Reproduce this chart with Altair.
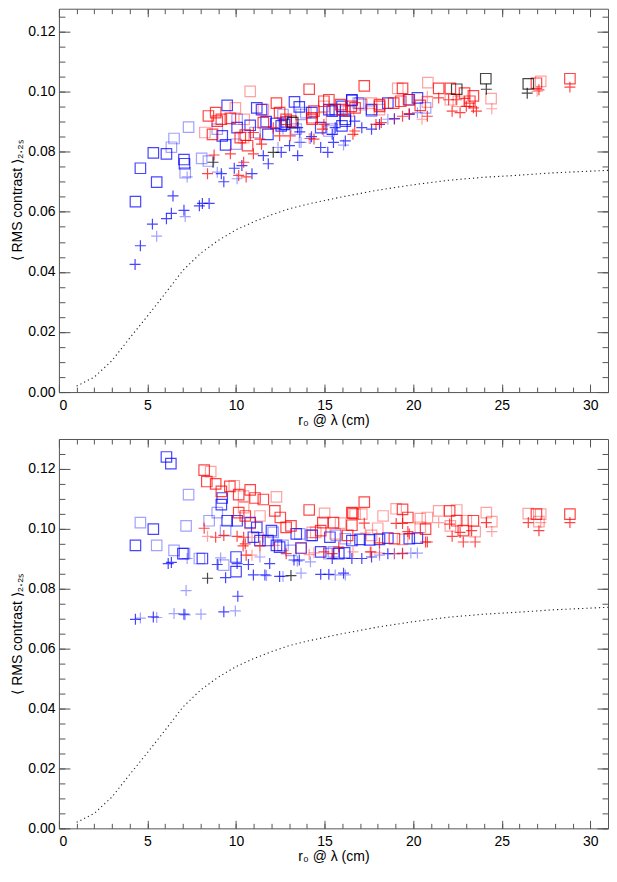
import altair as alt
import pandas as pd

# ---------------- data ----------------
CURVE_X = [1, 2, 3, 4, 5, 6, 7, 8, 9, 10, 11, 12, 13, 14, 16, 18, 20, 22, 24, 26, 28, 31]
CURVE_Y = [0.002, 0.005, 0.0105, 0.018, 0.0253, 0.0328, 0.0405, 0.0462, 0.0505, 0.054, 0.0567,
           0.059, 0.061, 0.0625, 0.065, 0.0672, 0.069, 0.0705, 0.0715, 0.0722, 0.073, 0.0738]

X_MAJOR = [0, 5, 10, 15, 20, 25, 30]
X_MINOR = list(range(1, 31))
Y_MAJOR = [0.0, 0.02, 0.04, 0.06, 0.08, 0.10, 0.12]
Y_MINOR = [round(0.005 * k, 3) for k in range(26)]

# (x, y, set)   set a = strong, b = faint
TOP_BLUE_SQ = [
    (4.32, 0.0634, 'a'), (4.6, 0.0745, 'a'), (5.33, 0.0796, 'a'), (5.52, 0.0699, 'a'), (6.07, 0.0793, 'a'),
    (6.35, 0.0815, 'b'), (6.5, 0.0844, 'b'), (7.32, 0.0882, 'b'), (7.06, 0.0774, 'a'), (7.09, 0.076, 'a'),
    (7.13, 0.073, 'b'), (8.06, 0.0778, 'b'), (8.44, 0.0769, 'b'), (8.94, 0.0875, 'b'), (9.22, 0.0853, 'a'),
    (9.5, 0.0954, 'a'), (9.41, 0.0823, 'a'), (10.06, 0.088, 'a'), (10.0, 0.0825, 'b'), (10.06, 0.0908, 'b'),
    (10.8, 0.0888, 'a'), (11.17, 0.0946, 'a'), (11.44, 0.094, 'a'), (11.07, 0.0864, 'b'), (11.7, 0.09, 'a'),
    (11.8, 0.0858, 'a'), (12.24, 0.0894, 'a'), (12.55, 0.0886, 'a'), (12.65, 0.0924, 'b'), (12.83, 0.0899, 'a'),
    (13.3, 0.0966, 'a'), (13.57, 0.0949, 'a'), (13.67, 0.0924, 'b'), (13.94, 0.093, 'b'),
    (14.28, 0.093, 'a'), (16.54, 0.0971, 'a'), (17.0, 0.0962, 'b'), (18.57, 0.0962, 'a'), (19.78, 0.0973, 'a'),
    (20.24, 0.0979, 'a'), (17.65, 0.0935, 'b'), (15.6, 0.094, 'a'), (15.43, 0.0935, 'a'), (16.17, 0.0935, 'b'),
    (16.17, 0.0902, 'a'), (14.78, 0.088, 'a'), (15.24, 0.0869, 'b'), (13.4, 0.0875, 'b'), (20.7, 0.0946, 'b'),
    (15.98, 0.0886, 'a'), (12.74, 0.0891, 'a'), (15.98, 0.0951, 'a'), (16.54, 0.0973, 'a'), (15.24, 0.094, 'a'),
    (17.65, 0.094, 'a'), (16.9, 0.0962, 'b'), (16.17, 0.0908, 'a'), (15.43, 0.0875, 'b'),
]
TOP_RED_SQ = [
    (10.8, 0.1001, 'b'), (8.44, 0.0919, 'a'), (8.85, 0.093, 'a'), (8.24, 0.0864, 'b'), (8.67, 0.0858, 'a'),
    (9.17, 0.0908, 'a'), (9.68, 0.0911, 'a'), (9.96, 0.0946, 'b'), (10.46, 0.0908, 'b'), (10.52, 0.0855, 'a'),
    (10.65, 0.082, 'a'), (10.24, 0.0847, 'a'), (11.54, 0.094, 'b'), (12.28, 0.0962, 'a'), (12.46, 0.093, 'a'),
    (13.1, 0.0902, 'a'), (14.13, 0.1008, 'a'), (14.28, 0.0913, 'a'), (17.24, 0.1019, 'a'), (19.13, 0.1011, 'b'),
    (19.4, 0.1011, 'a'), (20.83, 0.103, 'b'), (21.44, 0.1011, 'a'), (22.1, 0.1011, 'a'),
    (26.96, 0.1028, 'a'), (27.2, 0.1034, 'b'), (28.85, 0.1043, 'a'), (24.4, 0.0977, 'b'),
    (22.9, 0.0995, 'a'), (23.4, 0.0986, 'a'), (23.2, 0.0968, 'a'), (22.55, 0.0968, 'b'), (22.1, 0.0973, 'b'),
    (20.8, 0.0965, 'b'), (20.4, 0.0954, 'a'), (19.74, 0.0973, 'a'), (19.3, 0.0968, 'a'), (18.9, 0.0962, 'a'),
    (17.65, 0.0962, 'b'), (18.1, 0.0957, 'a'), (18.1, 0.094, 'b'), (17.1, 0.0957, 'b'), (15.9, 0.0957, 'a'),
    (16.5, 0.0951, 'a'), (14.96, 0.0968, 'a'), (15.24, 0.0973, 'a'), (14.4, 0.0935, 'a'), (14.8, 0.0913, 'b'),
    (14.3, 0.0908, 'a'), (14.96, 0.0951, 'b'), (12.83, 0.0908, 'a'), (11.54, 0.0897, 'a'), (10.43, 0.0847, 'b'),
    (8.94, 0.0902, 'a'), (15.98, 0.094, 'a'), (16.35, 0.0935, 'b'), (16.72, 0.0946, 'a'), (18.1, 0.0951, 'a'),
]
TOP_BLACK_SQ = [(24.1, 0.1043, 'a'), (26.5, 0.1026, 'a'), (22.46, 0.1008, 'a'), (13.2, 0.0897, 'a')]
TOP_BLUE_PL = [
    (4.3, 0.0425, 'a'), (4.6, 0.0487, 'a'), (5.28, 0.0559, 'a'), (5.52, 0.0519, 'b'), (6.07, 0.0577, 'a'),
    (6.35, 0.0595, 'a'), (6.44, 0.0653, 'a'), (7.06, 0.0605, 'a'), (7.13, 0.0584, 'b'), (7.24, 0.0716, 'b'),
    (7.93, 0.062, 'a'), (8.1, 0.0628, 'a'), (8.48, 0.0628, 'a'), (8.94, 0.0732, 'b'), (9.17, 0.0727, 'a'),
    (9.31, 0.07, 'a'), (9.9, 0.0745, 'a'), (10.06, 0.071, 'b'), (10.33, 0.0754, 'a'), (10.9, 0.0727, 'a'),
    (11.54, 0.0787, 'a'), (11.82, 0.076, 'a'), (12.37, 0.0814, 'b'), (12.55, 0.0798, 'a'),
    (13.02, 0.082, 'a'), (13.48, 0.0787, 'a'), (13.48, 0.088, 'a'), (13.6, 0.0866, 'a'), (13.67, 0.0831, 'b'),
    (14.26, 0.085, 'a'), (12.65, 0.0875, 'b'), (14.78, 0.0814, 'a'), (15.18, 0.0798, 'a'), (15.5, 0.0831, 'a'),
    (16.17, 0.0836, 'a'), (16.07, 0.0822, 'b'), (17.1, 0.088, 'a'), (17.65, 0.0875, 'a'), (18.1, 0.0891, 'a'),
    (18.57, 0.0908, 'b'), (18.94, 0.091, 'a'), (19.78, 0.0924, 'a'), (20.24, 0.093, 'b'), (14.2, 0.0844, 'b'),
    (13.57, 0.0831, 'b'), (16.7, 0.0902, 'a'), (15.6, 0.088, 'a'), (15.43, 0.0858, 'a'),
]
TOP_RED_PL = [
    (8.39, 0.0727, 'a'), (8.76, 0.0789, 'a'), (9.68, 0.0793, 'a'), (10.15, 0.0721, 'a'), (10.57, 0.0716, 'a'),
    (10.43, 0.0765, 'a'), (10.98, 0.0793, 'a'), (11.35, 0.0842, 'a'), (11.44, 0.0825, 'a'), (12.46, 0.0853, 'a'),
    (13.06, 0.0853, 'a'), (10.98, 0.0864, 'a'), (12.1, 0.088, 'a'), (14.13, 0.0844, 'b'), (14.4, 0.0842, 'a'),
    (14.87, 0.0875, 'a'), (14.96, 0.0891, 'a'), (16.6, 0.0858, 'a'), (16.7, 0.0869, 'a'), (17.9, 0.0891, 'a'),
    (18.2, 0.0897, 'a'), (18.94, 0.0908, 'b'), (19.4, 0.0918, 'a'), (19.78, 0.0927, 'a'), (20.5, 0.0908, 'b'),
    (20.8, 0.0918, 'a'), (20.8, 0.0984, 'b'), (21.44, 0.0979, 'a'), (22.0, 0.0973, 'a'), (22.2, 0.0935, 'a'),
    (22.65, 0.093, 'a'), (23.0, 0.0951, 'a'), (23.4, 0.0946, 'a'), (23.57, 0.0935, 'a'), (22.46, 0.0973, 'a'),
    (24.44, 0.0943, 'b'), (27.0, 0.1001, 'b'), (27.1, 0.1006, 'a'), (28.85, 0.1015, 'a'),
    (23.2, 0.0962, 'a'),
]
TOP_BLACK_PL = [(26.44, 0.0995, 'a'), (24.13, 0.1008, 'a'), (8.7, 0.0765, 'a'), (12.1, 0.0798, 'a')]

BOT_BLUE_SQ = [
    (6.07, 0.124, 'a'), (6.32, 0.1218, 'a'), (4.6, 0.1021, 'b'), (4.32, 0.0945, 'a'), (5.33, 0.0999, 'a'),
    (5.52, 0.0945, 'b'), (6.5, 0.0928, 'b'), (7.0, 0.0917, 'a'), (7.09, 0.0917, 'b'), (7.18, 0.101, 'b'),
    (7.32, 0.1114, 'b'), (7.93, 0.0901, 'b'), (8.1, 0.0901, 'a'), (8.48, 0.1027, 'b'), (8.94, 0.1054, 'b'),
    (9.17, 0.1081, 'a'), (9.22, 0.1103, 'a'), (9.5, 0.1027, 'a'), (9.41, 0.0994, 'b'), (9.3, 0.0879, 'b'),
    (10.0, 0.0857, 'a'), (10.0, 0.0906, 'a'), (10.06, 0.1027, 'a'), (10.8, 0.1021, 'a'), (10.98, 0.0972, 'a'),
    (11.17, 0.1005, 'a'), (11.35, 0.0961, 'a'), (11.8, 0.0961, 'a'), (12.0, 0.0994, 'a'), (12.1, 0.0988, 'b'),
    (12.28, 0.0945, 'a'), (12.46, 0.0939, 'a'), (12.65, 0.0945, 'b'), (13.1, 0.0928, 'b'), (13.4, 0.0983, 'a'),
    (13.6, 0.0983, 'b'), (13.67, 0.0936, 'a'), (14.3, 0.0978, 'a'), (14.2, 0.0978, 'b'), (15.3, 0.0972, 'a'),
    (15.65, 0.0978, 'b'), (16.17, 0.0967, 'b'), (16.54, 0.0961, 'a'), (17.0, 0.0965, 'a'), (17.54, 0.0963, 'a'),
    (18.1, 0.0965, 'a'), (18.57, 0.0969, 'a'), (19.78, 0.0967, 'a'), (20.24, 0.0969, 'a'), (14.78, 0.0923, 'a'),
    (15.24, 0.0917, 'b'), (15.8, 0.0917, 'a'), (16.13, 0.092, 'a'), (15.5, 0.0923, 'b'),
]
BOT_RED_SQ = [
    (8.2, 0.1196, 'a'), (8.57, 0.1191, 'b'), (8.35, 0.1158, 'a'), (8.85, 0.115, 'a'), (9.17, 0.1125, 'a'),
    (9.65, 0.1142, 'a'), (9.9, 0.1144, 'b'), (10.15, 0.1114, 'a'), (10.43, 0.1109, 'b'), (10.8, 0.113, 'a'),
    (11.07, 0.1103, 'a'), (11.54, 0.1098, 'a'), (12.28, 0.1107, 'b'), (12.19, 0.106, 'a'), (12.5, 0.1038, 'a'),
    (13.1, 0.101, 'a'), (14.13, 0.1063, 'a'), (10.15, 0.1054, 'a'), (10.43, 0.1071, 'b'), (10.52, 0.1043, 'a'),
    (10.8, 0.1018, 'b'), (11.35, 0.1043, 'b'), (14.3, 0.0988, 'b'), (15.0, 0.1052, 'b'), (17.24, 0.1089, 'a'),
    (16.6, 0.1052, 'a'), (17.1, 0.1049, 'b'), (18.3, 0.1043, 'b'), (19.04, 0.1067, 'b'), (19.4, 0.1065, 'a'),
    (19.7, 0.1038, 'a'), (21.44, 0.106, 'b'), (22.06, 0.106, 'a'), (22.46, 0.1063, 'b'), (24.13, 0.1054, 'b'),
    (24.44, 0.1024, 'b'), (26.5, 0.1051, 'b'), (26.96, 0.1049, 'a'), (27.2, 0.1049, 'b'), (27.1, 0.1024, 'b'),
    (28.85, 0.1049, 'a'), (14.9, 0.1021, 'a'), (15.5, 0.1021, 'a'), (15.9, 0.1019, 'b'), (16.54, 0.1012, 'a'),
    (18.0, 0.1002, 'b'), (20.4, 0.1034, 'b'), (20.8, 0.1038, 'b'), (20.7, 0.0999, 'a'), (20.4, 0.1005, 'b'),
    (22.1, 0.101, 'b'), (22.46, 0.1027, 'a'), (23.0, 0.1027, 'b'), (23.4, 0.1027, 'a'), (23.5, 0.0991, 'b'),
    (22.83, 0.0994, 'a'), (14.5, 0.0988, 'b'), (14.78, 0.0994, 'a'), (15.6, 0.0983, 'b'), (18.94, 0.0967, 'a'),
    (19.4, 0.0965, 'b'), (17.65, 0.0978, 'b'), (13.67, 0.0936, 'b'), (16.54, 0.1054, 'a'), (16.72, 0.1049, 'b'),
    (12.83, 0.1005, 'a'), (16.3, 0.0978, 'a'),
]
BOT_BLACK_SQ = []
BOT_BLUE_PL = [
    (4.32, 0.0698, 'a'), (4.6, 0.0702, 'b'), (5.33, 0.0706, 'a'), (5.52, 0.0704, 'b'), (6.5, 0.0717, 'b'),
    (7.06, 0.0715, 'a'), (7.13, 0.0713, 'b'), (7.18, 0.0794, 'b'), (8.02, 0.0715, 'b'), (9.31, 0.0723, 'a'),
    (9.96, 0.0726, 'b'), (10.1, 0.0775, 'a'), (6.17, 0.0884, 'a'), (6.35, 0.0888, 'a'), (7.24, 0.0901, 'b'),
    (9.41, 0.0837, 'a'), (9.13, 0.0903, 'b'), (8.94, 0.0881, 'a'), (10.06, 0.0884, 'a'),
    (10.7, 0.0881, 'a'), (10.98, 0.0846, 'a'), (11.35, 0.0906, 'b'), (11.63, 0.0846, 'a'), (11.72, 0.0844, 'b'),
    (11.9, 0.0884, 'a'), (12.46, 0.0841, 'a'), (12.65, 0.0841, 'b'), (13.27, 0.0896, 'a'),
    (13.46, 0.0892, 'b'), (13.67, 0.0852, 'b'), (14.2, 0.089, 'b'), (13.57, 0.0896, 'a'), (14.78, 0.0848, 'a'),
    (15.24, 0.0848, 'a'), (15.6, 0.0846, 'b'), (16.07, 0.0852, 'a'), (16.17, 0.0846, 'b'), (15.43, 0.0901, 'a'),
    (16.54, 0.0901, 'a'), (17.1, 0.0901, 'a'), (17.65, 0.0906, 'a'), (18.1, 0.0912, 'b'), (18.57, 0.0917, 'a'),
    (18.94, 0.0917, 'b'), (19.4, 0.0919, 'b'), (19.87, 0.0919, 'b'), (20.24, 0.0919, 'b'),
]
BOT_RED_PL = [
    (8.2, 0.1002, 'a'), (8.39, 0.0975, 'b'), (8.85, 0.0972, 'a'), (9.31, 0.0978, 'a'), (10.06, 0.0975, 'a'),
    (10.43, 0.0972, 'a'), (10.9, 0.0972, 'b'), (10.4, 0.0943, 'a'), (10.57, 0.0912, 'a'), (10.9, 0.0912, 'b'),
    (11.35, 0.0943, 'a'), (11.54, 0.0972, 'b'), (12.19, 0.0945, 'b'), (12.83, 0.0917, 'a'), (14.13, 0.0914, 'b'),
    (14.4, 0.092, 'b'), (14.96, 0.0923, 'a'), (15.8, 0.0939, 'a'), (16.6, 0.0923, 'b'), (17.65, 0.0923, 'b'),
    (18.1, 0.092, 'b'), (18.94, 0.0917, 'b'), (19.4, 0.0917, 'a'), (17.24, 0.1019, 'a'), (19.04, 0.1018, 'a'),
    (19.4, 0.1018, 'a'), (19.7, 0.0991, 'a'), (20.8, 0.0956, 'a'), (20.7, 0.0956, 'a'), (21.44, 0.1021, 'b'),
    (22.06, 0.1016, 'a'), (22.2, 0.0975, 'a'), (22.83, 0.0956, 'a'), (23.5, 0.0956, 'a'), (22.65, 0.0988, 'a'),
    (23.3, 0.0994, 'a'), (24.13, 0.1021, 'a'), (24.44, 0.0991, 'b'), (26.5, 0.1021, 'a'), (27.1, 0.0994, 'a'),
    (27.2, 0.1021, 'b'), (28.85, 0.1021, 'a'), (17.3, 0.0986, 'b'), (19.78, 0.0983, 'a'), (18.1, 0.0953, 'a'),
    (10.52, 0.095, 'a'), (15.43, 0.0917, 'a'), (17.58, 0.0923, 'a'),
]
BOT_BLACK_PL = [(8.39, 0.0835, 'a'), (13.1, 0.0844, 'a')]

# ---------------- layout / style ----------------
W = 550            # plot width (px)
VH = 821           # full view height: both panels share one view
TOP_RANGE = [384, 0]      # pixel range of the upper panel's y scale
BOT_RANGE = [821, 431]    # pixel range of the lower panel's y scale
FONT = "Liberation Sans"
TICK_COLOR = "#555555"


def frame(blue, red, black):
    rows = []
    for name, lst in (("blue", blue), ("red", red), ("black", black)):
        for x, y, s in lst:
            rows.append({"x": x, "y": y, "set": s, "c": name})
    return pd.DataFrame(rows)


curve_df = pd.DataFrame({"x": CURVE_X, "y": CURVE_Y})

color_enc = alt.Color("c:N", legend=None,
                      scale=alt.Scale(domain=["blue", "red", "black"],
                                      range=["#0000ff", "#ff0000", "#000000"]))
opac_enc = alt.Opacity("set:N", legend=None,
                       scale=alt.Scale(domain=["a", "b"], range=[0.72, 0.36]))
xs = alt.Scale(domain=[0, 31], nice=False, zero=False)


def tick_axis(orient, offset, values, size, domain=False):
    return alt.Axis(orient=orient, offset=offset, values=values, tickSize=size,
                    labels=False, domain=domain, domainColor=TICK_COLOR, domainWidth=1,
                    grid=False, title=None, tickColor=TICK_COLOR, tickWidth=1)


def panel_layers(sq_df, pl_df, y_max, rng):
    ys = alt.Scale(domain=[0, y_max], range=rng, nice=False, zero=False)
    bottom_y, top_y = rng[0], rng[1]

    main_x = alt.Axis(orient="bottom", offset=bottom_y - VH, title="r₀ @ λ (cm)", values=X_MAJOR,
                      format="d", ticks=False, tickSize=0, domain=True, domainColor=TICK_COLOR,
                      domainWidth=1, grid=False, labelPadding=6, titlePadding=1,
                      labelFont=FONT, titleFont=FONT, labelFontSize=14, titleFontSize=14,
                      titleFontWeight="normal", labelColor="black", titleColor="black")
    main_y = alt.Axis(orient="left", title="⟨ RMS contrast ⟩₂.₂ₛ", values=Y_MAJOR, format=".2f",
                      ticks=False, tickSize=0, domain=True, domainColor=TICK_COLOR, domainWidth=1,
                      grid=False, labelPadding=4, titlePadding=3,
                      labelFont=FONT, titleFont=FONT, labelFontSize=14, titleFontSize=14,
                      titleFontWeight="normal", labelColor="black", titleColor="black")

    curve = alt.Chart(curve_df).mark_line(strokeDash=[1.2, 3], strokeWidth=1.1, color="#222222").encode(
        x=alt.X("x:Q", scale=xs, axis=main_x),
        y=alt.Y("y:Q", scale=ys, axis=main_y),
    )
    squares = alt.Chart(sq_df).mark_point(shape="square", filled=False, size=110, strokeWidth=1.2).encode(
        x=alt.X("x:Q", scale=xs, axis=tick_axis("top", -bottom_y, X_MAJOR, 8)),
        y=alt.Y("y:Q", scale=ys, axis=tick_axis("right", -W, Y_MAJOR, 11)),
        color=color_enc, opacity=opac_enc,
    )
    pluses = alt.Chart(pl_df).mark_point(shape="M-1,0L1,0M0,-1L0,1", filled=False, size=121,
                                         strokeWidth=1.2).encode(
        x=alt.X("x:Q", scale=xs, axis=tick_axis("top", -bottom_y, X_MINOR, 5)),
        y=alt.Y("y:Q", scale=ys, axis=tick_axis("right", -W, Y_MINOR, 6)),
        color=color_enc, opacity=opac_enc,
    )
    hid1 = alt.Chart(curve_df).mark_point(opacity=0).encode(
        x=alt.X("x:Q", scale=xs, axis=tick_axis("bottom", top_y - VH, X_MAJOR, 8, domain=True)),
        y=alt.Y("y:Q", scale=ys, axis=tick_axis("left", -W, Y_MAJOR, 11, domain=True)),
    )
    hid2 = alt.Chart(curve_df).mark_point(opacity=0).encode(
        x=alt.X("x:Q", scale=xs, axis=tick_axis("bottom", top_y - VH, X_MINOR, 5)),
        y=alt.Y("y:Q", scale=ys, axis=tick_axis("left", -W, Y_MINOR, 6)),
    )
    return [curve, squares, pluses, hid1, hid2]


layers = panel_layers(frame(TOP_BLUE_SQ, TOP_RED_SQ, TOP_BLACK_SQ),
                      frame(TOP_BLUE_PL, TOP_RED_PL, TOP_BLACK_PL), 0.1276, TOP_RANGE)
layers += panel_layers(frame(BOT_BLUE_SQ, BOT_RED_SQ, BOT_BLACK_SQ),
                       frame(BOT_BLUE_PL, BOT_RED_PL, BOT_BLACK_PL), 0.13, BOT_RANGE)

chart = alt.layer(*layers).resolve_scale(y="independent").resolve_axis(
    x="independent", y="independent"
).properties(
    width=W, height=VH,
    autosize=alt.AutoSizeParams(type="none"),
    padding={"left": 51, "top": 0, "right": 1, "bottom": 35},
    background="white",
).configure_view(strokeWidth=0)

chart.save("out.html", embed_options={"renderer": "svg", "actions": False})
